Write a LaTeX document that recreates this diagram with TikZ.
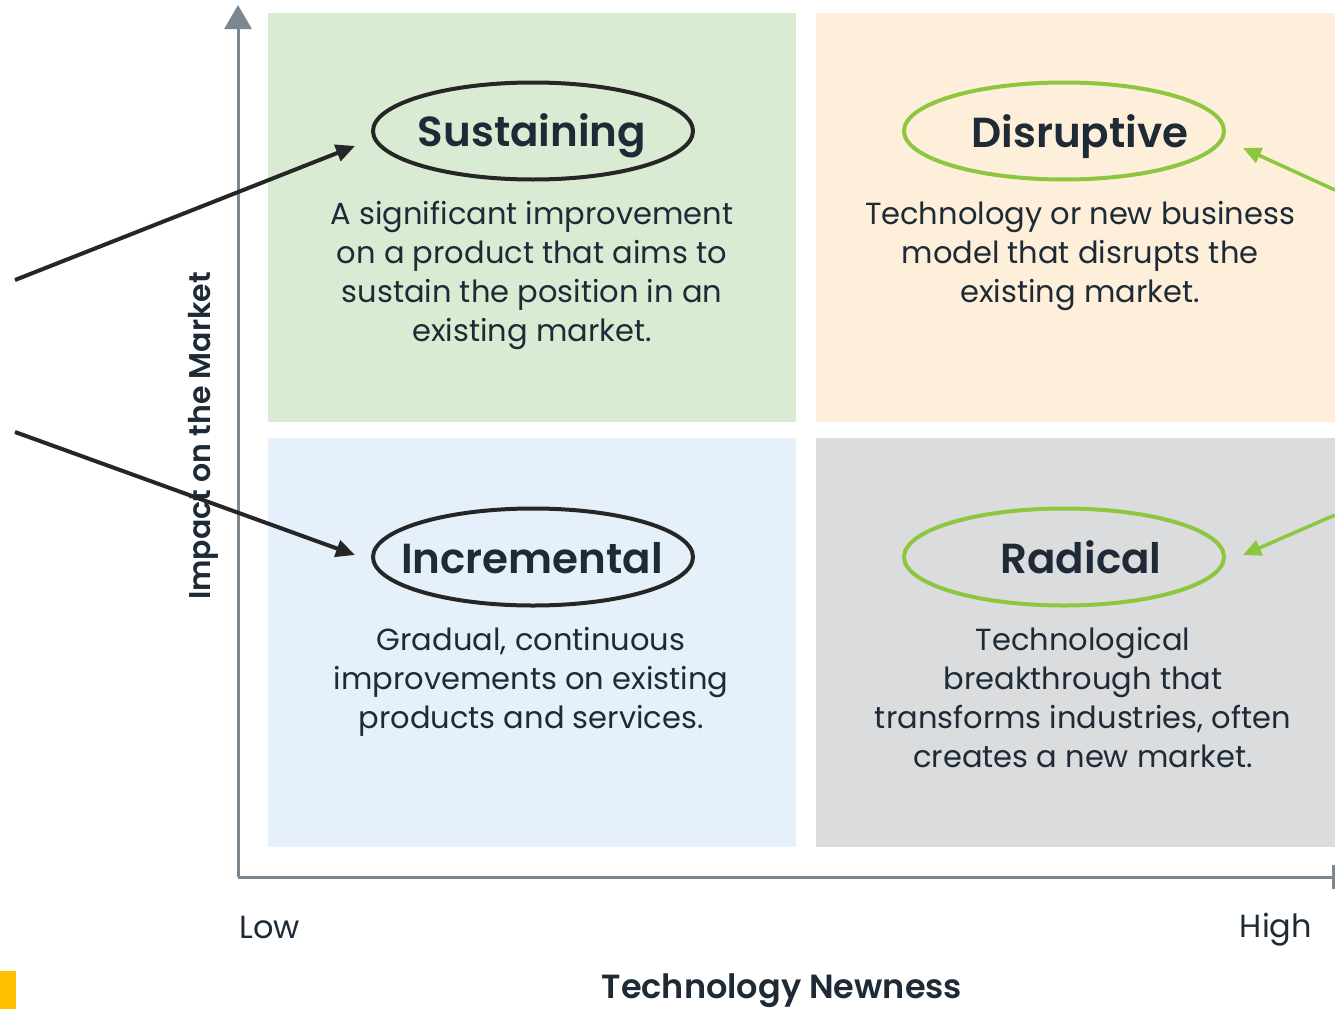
\documentclass[tikz,border=0pt]{standalone}
\usepackage{fontspec}
\setmainfont{Poppins}
\newfontfamily\semifont{Poppins}[UprightFont=* SemiBold]
\usetikzlibrary{shapes.geometric,arrows.meta}
\definecolor{qgreen}{HTML}{DAEBD3}
\definecolor{qorange}{HTML}{FDEFD9}
\definecolor{qblue}{HTML}{E6F0FA}
\definecolor{qgrey}{HTML}{DBDCDE}
\definecolor{axiscol}{HTML}{7D8790}
\definecolor{txt}{HTML}{1E2B37}
\definecolor{lime}{HTML}{8DC63F}
\definecolor{markcol}{HTML}{FFC000}
\tikzset{
  quad/.style={draw=none, rectangle, inner sep=0pt},
  oval/.style={ellipse, line width=4pt, minimum width=320pt, minimum height=97pt, inner sep=0pt},
  title/.style={font=\fontsize{42}{50}\semifont, text=txt, inner sep=0pt, anchor=base},
  body/.style={font=\fontsize{30.5}{39}\selectfont, text=txt, align=center, inner sep=0pt},
  axislbl/.style={font=\fontsize{32}{36}\selectfont, text=txt, inner sep=0pt},
  axisline/.style={draw=axiscol, line width=3pt},
  blackarrow/.style={draw=black!85, line width=4pt, -{Triangle[length=19pt,width=17pt]}},
  greenarrow/.style={draw=lime, line width=3.5pt, -{Triangle[length=18pt,width=16pt]}},
}
\begin{document}
\begin{tikzpicture}[x=1pt,y=-1pt]
\useasboundingbox (0,0) rectangle (1335,1009);
% quadrants
\node[quad, fill=qgreen, minimum width=528pt, minimum height=409pt] (qsust) at (532,217.5) {};
\node[quad, fill=qorange, minimum width=519pt, minimum height=409pt] (qdisr) at (1075.5,217.5) {};
\node[quad, fill=qblue, minimum width=528pt, minimum height=409pt] (qincr) at (532,642.5) {};
\node[quad, fill=qgrey, minimum width=519pt, minimum height=409pt] (qradi) at (1075.5,642.5) {};
% axes
\coordinate (origin) at (238,877);
\coordinate (ytop) at (238,5);
\coordinate (xend) at (1335,877);
\coordinate (tickA) at (1333,865);
\coordinate (tickB) at (1333,889);
\draw[axisline, -{Triangle[length=24pt,width=27pt]}] (origin) -- (ytop);
\draw[axisline] (origin) -- (xend);
\draw[axisline] (tickA) -- (tickB);
\node[axislbl, rotate=90, font=\fontsize{30}{36}\semifont] (ylab) at (203,436) {Impact on the Market};
\node[axislbl, anchor=base west] (low) at (239,938) {Low};
\node[axislbl, anchor=base] (high) at (1276,937) {High};
\node[axislbl, anchor=base, font=\fontsize{33.5}{40}\semifont] (xlab) at (782,998) {Technology Newness};
% marker
\fill[markcol] (0,971) rectangle (16,1009);
% ellipses and titles
\node[oval, draw=black!85] (sustE) at (533,131) {};
\node[title] (sustT) at (532,146) {Sustaining};
\node[oval, draw=lime] (disrE) at (1064,131) {};
\node[title] (disrT) at (1080,147) {Disruptive};
\node[oval, draw=black!85] (incrE) at (533,557) {};
\node[title] (incrT) at (532,573) {Incremental};
\node[oval, draw=lime] (radiE) at (1064,557) {};
\node[title] (radiT) at (1081,573) {Radical};
% descriptions
\node[body] (sustB) at (532,275) {A significant improvement\\on a product that aims to\\sustain the position in an\\existing market.};
\node[body] (disrB) at (1080,256) {Technology or new business\\model that disrupts the\\existing market.};
\node[body] (incrB) at (531,682) {Gradual, continuous\\improvements on existing\\products and services.};
\node[body] (radiB) at (1083,698) {Technological\\breakthrough that\\transforms industries, often\\creates a new market.};
% arrows
\coordinate (srcSust) at (15,280);
\coordinate (tipSust) at (355,146);
\coordinate (srcIncr) at (15,432);
\coordinate (tipIncr) at (355,555);
\coordinate (srcDisr) at (1335,190);
\coordinate (tipDisr) at (1243,148);
\coordinate (srcRadi) at (1335,515);
\coordinate (tipRadi) at (1243,555);
\draw[blackarrow] (srcSust) -- (tipSust);
\draw[blackarrow] (srcIncr) -- (tipIncr);
\draw[greenarrow] (srcDisr) -- (tipDisr);
\draw[greenarrow] (srcRadi) -- (tipRadi);
\end{tikzpicture}
\end{document}
